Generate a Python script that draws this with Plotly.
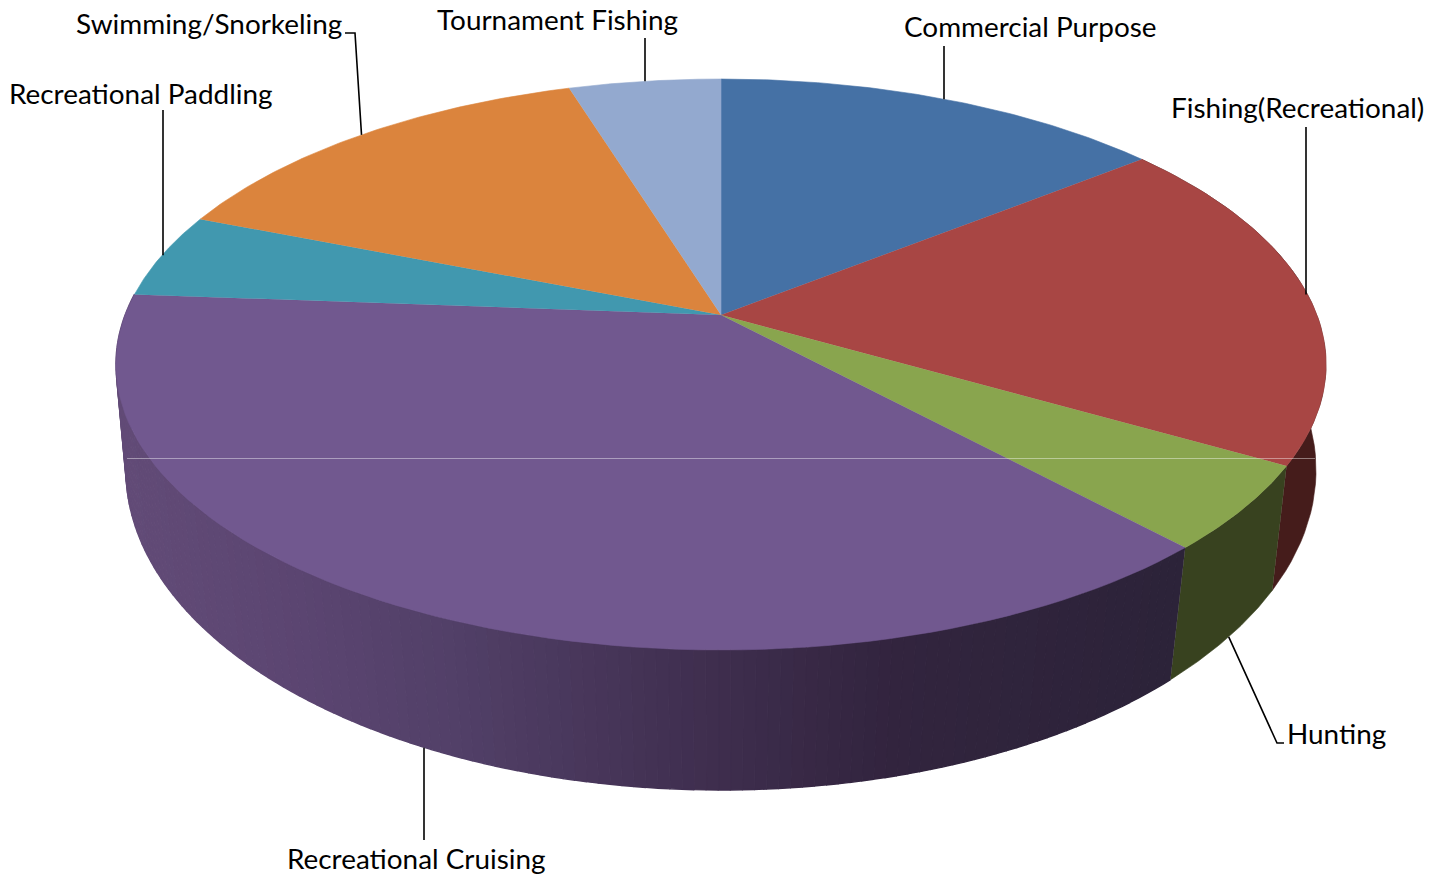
import math
import plotly.graph_objects as go

# ---- data (percent shares, clockwise from 12 o'clock)
categories = ["Commercial Purpose", "Fishing(Recreational)", "Hunting", "Recreational Cruising",
              "Recreational Paddling", "Swimming/Snorkeling", "Tournament Fishing"]
shares = [14.3, 19.0, 4.8, 38.1, 4.8, 14.2, 4.8]
top_colors = ["#4571a5", "#a84644", "#89a54e", "#71588f", "#4198af", "#db843d", "#93a9cf"]
wall_colors = {"Fishing(Recreational)": "#451c1b", "Hunting": "#38421f"}
gradient_wall = "Recreational Cruising"
purple_stops = [(120, (98, 75, 119)), (300, (91, 69, 113)), (450, (82, 64, 104)),
                (700, (64, 47, 80)), (900, (50, 36, 62)), (1180, (44, 35, 57))]

# label centres and leader elbows (page pixels)
label_xy = [(1030, 26), (1297, 107), (1336, 733), (416, 858), (140, 93), (208.5, 23), (557, 19)]
leader_via = [[(944, 46)], [(1306, 127)], [(1277, 743), (1284, 743)], [(424, 840)],
              [(163, 110)], [(355, 33), (345, 33)], [(645, 38)]]
leader_on_wall = [False, False, True, True, False, False, False]
leader_vertical = [True, True, False, True, True, False, True]

# ---- projection of the tilted disc: top face and bottom rim
CX = 721.0
TOP = dict(ax=595.9, by=276.9, k=0.1734, y0=315.0)
BOT = dict(ax=588.3, by=312.8, k=0.15, y0=422.0)


def proj(deg, bottom=False):
    p = BOT if bottom else TOP
    t = math.radians(deg)
    u, v = math.sin(t), math.cos(t)
    w = 1 + p["k"] * v
    return CX + p["ax"] * u / w, p["y0"] - p["by"] * v / w


def purple(x):
    for (x0, c0), (x1, c1) in zip(purple_stops, purple_stops[1:]):
        if x <= x1:
            f = max(0, (x - x0) / (x1 - x0))
            return "rgb(%d,%d,%d)" % tuple(round(a + (b - a) * f) for a, b in zip(c0, c1))
    return "rgb(%d,%d,%d)" % purple_stops[-1][1]


def steps(a, b, n):
    return [a + (b - a) * i / n for i in range(n + 1)]


total = sum(shares)
edges = [0.0]
for s in shares:
    edges.append(edges[-1] + s / total * 360)

fig = go.Figure()


def poly(xs, ys, color, width=0.6):
    fig.add_trace(go.Scatter(x=xs, y=ys, mode="lines", fill="toself", fillcolor=color,
                             line=dict(color=color, width=width), hoverinfo="skip", showlegend=False))


# walls (drawn first, the top surface covers the hidden part)
for i, name in enumerate(categories):
    a, b = edges[i], edges[i + 1]
    if name in wall_colors:
        ang = steps(a, b, 40)
        t = [proj(d) for d in ang]
        bt = [proj(d, True) for d in reversed(ang)]
        poly([p[0] for p in t + bt], [p[1] for p in t + bt], wall_colors[name])
    elif name == gradient_wall:
        n = int((b - a) * 1.0)
        ang = steps(a, b, n)
        for ang0, ang1 in zip(ang, ang[1:]):
            pts = [proj(ang0), proj(ang1), proj(ang1, True), proj(ang0, True)]
            poly([p[0] for p in pts], [p[1] for p in pts], purple(pts[0][0]), width=1.4)

# top surface
for i, name in enumerate(categories):
    ang = steps(edges[i], edges[i + 1], 80)
    pts = [proj(d) for d in ang] + [(CX, TOP["y0"])]
    poly([p[0] for p in pts], [p[1] for p in pts], top_colors[i])

# thin light line across the picture
fig.add_shape(type="line", x0=127, x1=1315, y0=458.5, y1=458.5, xref="x", yref="y", layer="above",
              line=dict(color="rgba(255,255,255,0.42)", width=1))

# leaders and labels
for i, name in enumerate(categories):
    mid = (edges[i] + edges[i + 1]) / 2
    start = proj(mid, leader_on_wall[i])
    if leader_vertical[i]:
        start = (leader_via[i][0][0], start[1])
    pts = [start] + leader_via[i]
    fig.add_trace(go.Scatter(x=[p[0] for p in pts], y=[p[1] for p in pts], mode="lines",
                             line=dict(color="black", width=1.6), hoverinfo="skip", showlegend=False))
    fig.add_annotation(x=label_xy[i][0], y=label_xy[i][1], text=name, showarrow=False,
                       xanchor="center", yanchor="middle",
                       font=dict(family="Lato", size=27.9, color="black"))

fig.update_layout(width=1445, height=877, margin=dict(l=0, r=0, t=0, b=0),
                  paper_bgcolor="white", plot_bgcolor="white", showlegend=False,
                  xaxis=dict(range=[0, 1445], visible=False, fixedrange=True),
                  yaxis=dict(range=[877, 0], visible=False, fixedrange=True))
post = ("document.body.style.margin='0';document.body.style.overflow='hidden';"
        "var s=document.createElement('style');"
        "s.textContent='text{font-variant-ligatures:none}';document.head.appendChild(s);")
fig.write_html("out.html", config={"displayModeBar": False}, post_script=post)
